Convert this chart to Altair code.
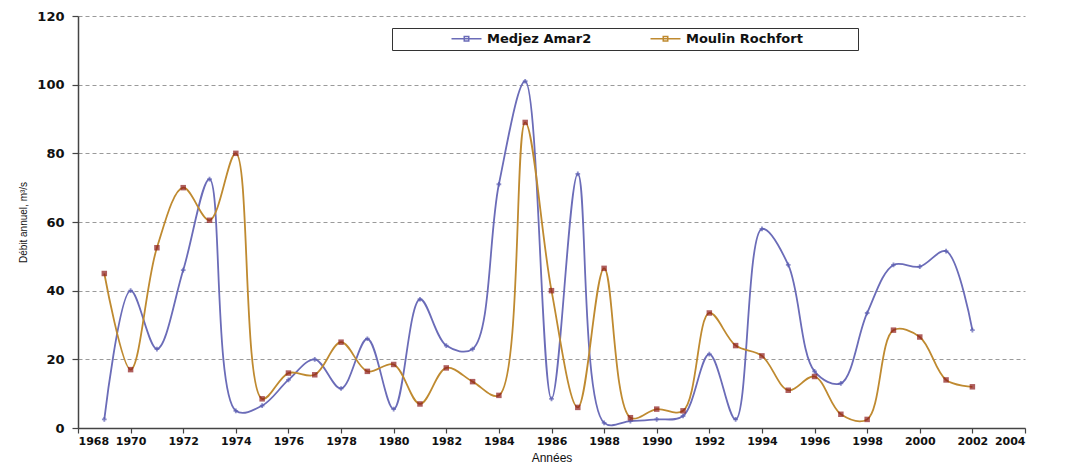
import altair as alt
import pandas as pd

years = list(range(1969, 2003))
medjez = [2.5, 40, 23, 46, 72.5, 5, 6.5, 14, 20, 11.5, 26, 5.5, 37.5, 24, 23, 71,
          101, 8.5, 74, 1.5, 2, 2.5, 3.5, 21.5, 2.5, 58, 47.5, 16.5, 13, 33.5, 47.5,
          47, 51.5, 28.5]
moulin = [45, 17, 52.5, 70, 60.5, 80, 8.5, 16, 15.5, 25, 16.5, 18.5, 7, 17.5, 13.5,
          9.5, 89, 40, 6, 46.5, 3, 5.5, 5, 33.5, 24, 21, 11, 15, 4, 2.5, 28.5, 26.5,
          14, 12]
series_names = ["Medjez Amar2", "Moulin Rochfort"]
x_ticks = list(range(1968, 2005, 2))
y_ticks = [0, 20, 40, 60, 80, 100, 120]

df = pd.DataFrame({
    "year": years * 2,
    "value": medjez + moulin,
    "series": [series_names[0]] * len(years) + [series_names[1]] * len(years),
})

line_colors = ["#6b6cb8", "#bf8a30"]
# symbol drawn at scale sqrt(size)/2 = 5 px per unit: line 30 px wide, small square marker
legend_path = "M-3,0L3,0M-0.45,-0.45L0.45,-0.45L0.45,0.45L-0.45,0.45Z"
pad_chars = "\u2800" * 5

base = alt.Chart(df)

x_enc = alt.X("year:Q", scale=alt.Scale(domain=[1968, 2004], nice=False),
              axis=alt.Axis(values=x_ticks, format="d", title="Années", grid=False,
                            labelFont="DejaVu Sans", labelFontWeight="bold", labelFontSize=11,
                            labelColor="#111", labelPadding=2, tickSize=5,
                            titleFont="Liberation Sans", titleFontSize=12,
                            titleFontWeight="normal", titlePadding=6, titleColor="#111"))
y_enc = alt.Y("value:Q", scale=alt.Scale(domain=[0, 120], nice=False),
              axis=alt.Axis(values=y_ticks, title="Débit annuel, m³/s",
                            labelFont="DejaVu Sans", labelFontWeight="bold", labelFontSize=13,
                            labelColor="#111", labelPadding=8, tickSize=6,
                            grid=True, gridDash=[4, 3], gridColor="#9a9a9a", gridWidth=1,
                            titleFont="Liberation Sans", titleFontSize=10,
                            titleFontWeight="normal", titlePadding=8, titleColor="#111"))

lines = base.mark_line(interpolate="catmull-rom", strokeWidth=1.8).encode(
    x=x_enc, y=y_enc,
    color=alt.Color("series:N", scale=alt.Scale(domain=series_names, range=line_colors),
                    legend=alt.Legend(title=None, orient="none", legendX=314, legendY=12,
                                      direction="horizontal", symbolType=legend_path,
                                      symbolSize=100, symbolStrokeWidth=1.5,
                                      labelFont="DejaVu Sans", labelFontWeight="bold",
                                      labelFontSize=13, labelColor="#111", labelOffset=14,
                                      labelLimit=400,
                                      symbolOffset=64, columnPadding=3, padding=4,
                                      strokeColor="#333", fillColor="white",
                                      labelExpr="datum.label == 'Moulin Rochfort' ? datum.label + '" + pad_chars + "' : datum.label")),
)

pts_m = base.transform_filter(alt.datum.series == series_names[0]).mark_point(
    shape="cross", filled=True, size=22, color="#5a5cb0").encode(x="year:Q", y="value:Q")
pts_r = base.transform_filter(alt.datum.series == series_names[1]).mark_point(
    shape="square", filled=True, size=30, color="#8b1a1a").encode(x="year:Q", y="value:Q")

chart = alt.layer(lines, pts_m, pts_r).properties(
    width=947, height=412,
    autosize=alt.AutoSizeParams(type="none"),
    padding={"left": 70, "top": 8, "right": 43, "bottom": 38},
).configure_view(stroke=None).configure_axis(
    domainColor="#444", domainWidth=1.5, tickColor="#444", tickWidth=1.2
)

chart.save("out.html", embed_options={"renderer": "svg", "actions": False})
